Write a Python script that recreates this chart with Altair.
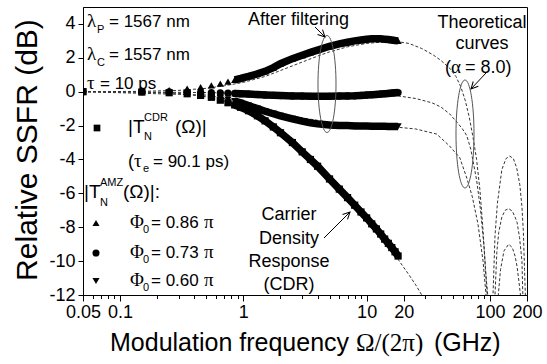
import math
import altair as alt
import pandas as pd

# ---------------- data ----------------
freq = [0.05, 0.15, 0.25, 0.35, 0.45, 0.55, 0.65, 0.75, 0.85, 0.95, 1.1, 1.3, 1.5,
        1.75, 2, 2.5, 3, 3.5, 4, 5, 6, 7, 8, 9, 10, 11, 12, 13, 14, 15, 16, 17, 18]
cdr = [0.0, -0.02, -0.06, -0.12, -0.22, -0.33, -0.5, -0.65, -0.78, -0.92, -1.12, -1.42, -1.72,
       -2.08, -2.42, -3.0, -3.55, -4.0, -4.4, -5.15, -5.75, -6.25, -6.7, -7.1, -7.45, -7.8,
       -8.1, -8.4, -8.7, -8.95, -9.2, -9.45, -9.7]
amz_086 = [0.0, 0.03, 0.1, 0.18, 0.27, 0.38, 0.48, 0.6, 0.7, 0.78, 0.9, 1.05, 1.2,
           1.42, 1.65, 1.95, 2.15, 2.32, 2.45, 2.68, 2.82, 2.92, 3.0, 3.05, 3.1, 3.12,
           3.12, 3.12, 3.1, 3.08, 3.05, 3.02, 3.0]
amz_073 = [0.0, 0.0, -0.01, -0.02, -0.04, -0.05, -0.07, -0.09, -0.1, -0.12, -0.14, -0.17, -0.19,
           -0.21, -0.23, -0.25, -0.26, -0.27, -0.27, -0.27, -0.26, -0.25, -0.24, -0.22, -0.2,
           -0.18, -0.16, -0.14, -0.12, -0.1, -0.08, -0.06, -0.05]
amz_060 = [0.0, -0.03, -0.08, -0.14, -0.22, -0.3, -0.38, -0.47, -0.56, -0.66, -0.82, -1.0, -1.15,
           -1.3, -1.42, -1.6, -1.74, -1.84, -1.9, -1.97, -2.0, -2.0, -2.02, -2.03, -2.03, -2.04,
           -2.04, -2.04, -2.04, -2.05, -2.05, -2.05, -2.05]

# theoretical curves (alpha = 8.0)
th_f_cdr = [0.05, 0.15, 0.3, 0.5, 0.7, 1, 1.5, 2, 3, 4, 5, 7, 10, 14, 18, 22, 25, 28, 30]
th_cdr = [0, -0.02, -0.1, -0.3, -0.55, -0.95, -1.65, -2.35, -3.5, -4.35, -5.1, -6.3, -7.55,
          -8.8, -9.9, -10.8, -11.4, -12.0, -12.4]
th_f_086 = [0.05, 0.15, 0.3, 0.5, 0.7, 1, 1.5, 2, 3, 4, 5, 7, 10, 14, 18, 22, 28, 35, 40, 47,
            53, 58, 63, 68, 73, 78, 83, 88, 92, 96, 100, 106, 110, 115, 125, 135, 145, 155,
            165, 175, 182, 187, 191, 194, 197]
th_086 = [0, 0.02, 0.08, 0.2, 0.35, 0.55, 0.9, 1.25, 1.75, 2.1, 2.35, 2.65, 2.85, 2.95, 2.95,
          2.85, 2.55, 2.15, 1.85, 1.4, 0.9, 0.3, -0.5, -1.5, -2.7, -4.0, -5.8, -8.2, -10.5,
          -12, -30, -12, -8.5, -6.6, -4.6, -3.95, -3.8, -3.95, -4.5, -5.5, -6.8, -8.3, -10.5,
          -12, -30]
th_f_073 = [0.05, 0.5, 1, 2, 5, 10, 18, 25, 34, 40, 47, 54, 60, 65, 70, 73, 78, 84, 90, 95,
            102, 110, 114, 118, 125, 133, 142, 152, 160, 166, 174, 182, 185, 190]
th_073 = [0, -0.05, -0.1, -0.15, -0.2, -0.2, -0.25, -0.4, -0.66, -0.9, -1.3, -1.8, -2.2, -2.6,
          -3.4, -4.1, -5.2, -7.0, -9.3, -12, -30, -12, -9.4, -8.3, -7.4, -7.0, -6.9, -7.05,
          -7.4, -7.7, -8.6, -10.0, -12, -30]
th_f_060 = [0.05, 0.5, 1, 2, 3, 5, 10, 18, 25, 37, 47, 57, 65, 72, 80, 88, 93, 105, 117, 122,
            130, 142, 152, 160, 166, 172, 177, 185]
th_060 = [0, -0.2, -0.6, -1.25, -1.55, -1.8, -2.0, -2.1, -2.2, -2.5, -3.2, -3.9, -5.1, -6.2,
          -7.8, -10.0, -12, -30, -12, -10.5, -9.4, -9.0, -9.2, -9.7, -10.3, -11.2, -12, -30]

x_major = [0.05, 0.1, 1, 10, 20, 100, 200]
x_minor = [0.06, 0.07, 0.08, 0.09, 0.2, 0.3, 0.4, 0.5, 0.6, 0.7, 0.8, 0.9,
           2, 3, 4, 5, 6, 7, 8, 9, 30, 40, 50, 60, 70, 80, 90]
y_ticks = [-12, -10, -8, -6, -4, -2, 0, 2, 4]

series = ["CDR", "0.86", "0.73", "0.60"]
shapes = ["square", "triangle-up", "circle", "triangle-down"]

meas = pd.DataFrame([
    {"f": f, "v": v, "s": name}
    for name, vals in zip(series, [cdr, amz_086, amz_073, amz_060])
    for f, v in zip(freq, vals)
])
theory = pd.DataFrame([
    {"f": f, "v": v, "c": name}
    for name, fs, vs in zip(series, [th_f_cdr, th_f_086, th_f_073, th_f_060],
                            [th_cdr, th_086, th_073, th_060])
    for f, v in zip(fs, vs)
])

SANS = "Liberation Sans"
SERIF = "Liberation Serif"
W, H = 444, 288
OX, OY = 83, 7

major_test = "indexof([0.05,0.1,1,10,20,100,200], datum.value) >= 0"
X = alt.X("f:Q",
          scale=alt.Scale(type="log", domain=[0.05, 200], nice=False),
          axis=alt.Axis(values=x_major + x_minor, title=None, grid=False,
                        tickSize={"condition": {"test": major_test, "value": 6}, "value": 3.5},
                        labelExpr=major_test + " ? format(datum.value, '~g') : ''",
                        labelOverlap=False, labelFlush=False, labelPadding=2,
                        labelFont=SANS, labelFontSize=18))
Y = alt.Y("v:Q",
          scale=alt.Scale(domain=[-12, 5], nice=False, zero=False),
          axis=alt.Axis(values=y_ticks, title=None, grid=False, tickSize=5,
                        labelPadding=3, labelExpr="replace(datum.label, '\u2212', '-')",
                        labelFont=SANS, labelFontSize=18))

theory_layer = alt.Chart(theory).mark_line(
    strokeDash=[3, 2], strokeWidth=1, color="#333333", clip=True
).encode(x=X, y=Y, detail="c:N")

band_layer = alt.Chart(meas).transform_filter("datum.f >= 0.8").mark_line(
    strokeWidth=7.5, color="black", clip=True
).encode(x=X, y=Y, detail="s:N")

point_layer = alt.Chart(meas).mark_point(
    filled=True, color="black", opacity=1, size=52, clip=True
).encode(x=X, y=Y,
         shape=alt.Shape("s:N", scale=alt.Scale(domain=series, range=shapes), legend=None))

ONE = alt.Data(values=[{"k": 1}])
ann = []


def txt(s, x, y, size, font=SANS, align="left", angle=None):
    kw = dict(text=s, font=font, fontSize=size, align=align, baseline="alphabetic",
              color="black")
    if angle is not None:
        kw["angle"] = angle
    ann.append(alt.Chart(ONE).mark_text(**kw).encode(x=alt.value(x - OX), y=alt.value(y - OY)))


def sym(shape, x, y, size):
    ann.append(alt.Chart(ONE).mark_point(shape=shape, filled=True, color="black", opacity=1,
                                         size=size).encode(x=alt.value(x - OX), y=alt.value(y - OY)))


def ellipse(cx, cy, h, halfw):
    a = halfw / (h / 2.0)
    k = 0.5523
    p = (f"M0,-1 C{k*a:.4f},-1 {a:.4f},-{k} {a:.4f},0 C{a:.4f},{k} {k*a:.4f},1 0,1 "
         f"C-{k*a:.4f},1 -{a:.4f},{k} -{a:.4f},0 C-{a:.4f},-{k} -{k*a:.4f},-1 0,-1 Z")
    ann.append(alt.Chart(ONE).mark_point(shape=p, filled=False, stroke="#555555",
                                         strokeWidth=1, size=h * h, opacity=1)
               .encode(x=alt.value(cx - OX), y=alt.value(cy - OY)))


def arrow(x1, y1, x2, y2):
    ann.append(alt.Chart(ONE).mark_rule(color="black", strokeWidth=1).encode(
        x=alt.value(x1 - OX), y=alt.value(y1 - OY), x2=alt.value(x2 - OX), y2=alt.value(y2 - OY)))
    ang = math.degrees(math.atan2(x2 - x1, -(y2 - y1))) % 360
    ann.append(alt.Chart(ONE).mark_point(shape="M-0.5,1 L0,0 L0.5,1", filled=False,
                                         stroke="black", strokeWidth=1, size=196, angle=ang,
                                         opacity=1)
               .encode(x=alt.value(x2 - OX), y=alt.value(y2 - OY)))


# upper-left parameters
txt("λ", 87, 27, 19, SERIF); txt("P", 97, 33, 11); txt("= 1567 nm", 109, 27, 17)
txt("λ", 87, 60, 19, SERIF); txt("C", 97, 66, 11); txt("= 1557 nm", 109, 60, 17)
txt("τ", 87, 89, 19, SERIF); txt("= 10 ps", 100, 89, 17)

# legend block
sym("square", 97, 128, 45)
txt("|T", 128, 133, 19); txt("CDR", 144, 121, 11); txt("N", 144, 140, 11); txt("(Ω)|", 175, 133, 19)
txt("(", 128, 167, 18); txt("τ", 134, 167, 19, SERIF); txt("e", 143, 172, 11); txt("= 90.1 ps)", 153, 167, 17)
txt("|T", 84, 198, 19); txt("AMZ", 100, 186, 11); txt("N", 100, 206, 11); txt("(Ω)|:", 123, 198, 19)
for shp, yy, val in [("triangle-up", 223, "0.86"), ("circle", 253, "0.73"), ("triangle-down", 281, "0.60")]:
    sym(shp, 96, yy, 50)
    txt("Φ", 130, yy + 5, 19, SERIF); txt("0", 143, yy + 10, 11)
    txt("= " + val, 151, yy + 5, 17); txt("π", 204, yy + 5, 19, SERIF)

# curve annotations
txt("After filtering", 248, 25, 18)
ellipse(327, 84, 97, 9)
arrow(315, 27, 325, 37)

txt("Theoretical", 482, 28, 18, align="center")
txt("curves", 482, 49, 18, align="center")
txt("(", 445, 73, 18); txt("α", 451, 73, 19, SERIF); txt("= 8.0)", 465, 73, 18)
ellipse(465, 134, 108, 9)
arrow(486, 73, 471, 89)

for line, yy in [("Carrier", 220), ("Density", 244), ("Response", 267), ("(CDR)", 290)]:
    txt(line, 289, yy, 18, align="center")
arrow(324, 238, 350, 212)

# axis titles
txt("Modulation frequency", 110, 351, 25)
txt("Ω/(2π)", 356, 351, 25, SERIF)
txt("(GHz)", 434, 351, 25)
txt("Relative SSFR (dB)", 37, 150, 30, align="center", angle=270)

chart = alt.layer(theory_layer, band_layer, point_layer, *ann).properties(
    width=W, height=H,
    padding={"left": OX, "top": OY, "right": 547 - OX - W, "bottom": 364 - OY - H},
    autosize=alt.AutoSizeParams(type="none"),
    background="white",
).configure_view(stroke="black", strokeWidth=1).configure_axis(
    domainColor="black", tickColor="black", labelColor="black", domainWidth=1, tickWidth=1
)

chart.save("out.html", embed_options={"renderer": "svg", "actions": False})
